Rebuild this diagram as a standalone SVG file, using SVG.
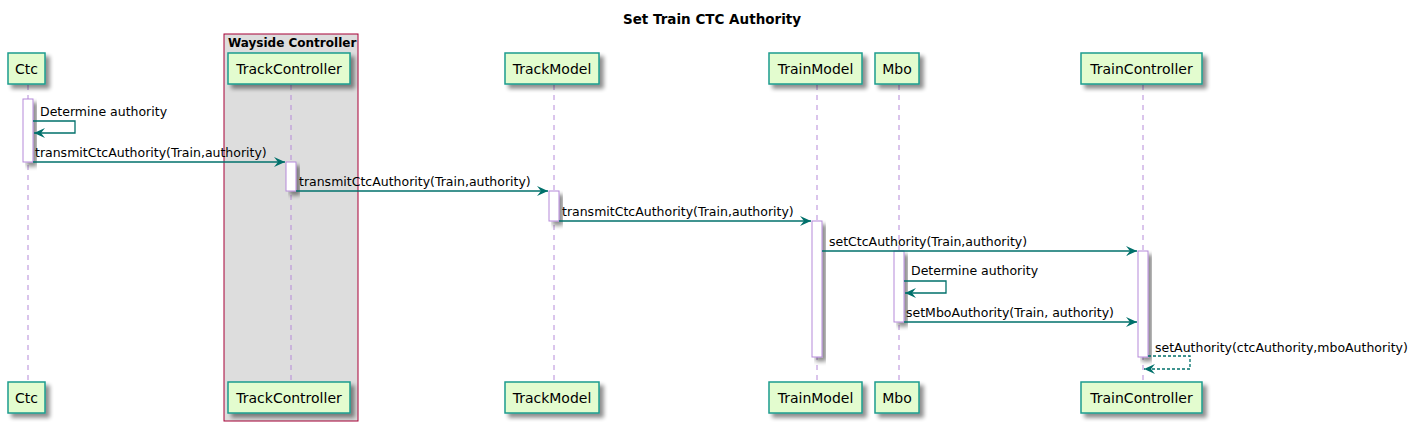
<svg xmlns="http://www.w3.org/2000/svg" width="1421" height="431" viewBox="0 0 1421 431">
<defs>
<filter id="sh" x="-20%" y="-20%" width="160%" height="160%">
<feGaussianBlur in="SourceAlpha" stdDeviation="2"/>
<feOffset dx="4" dy="4" result="b"/>
<feComponentTransfer><feFuncA type="linear" slope="0.45"/></feComponentTransfer>
<feMerge><feMergeNode/><feMergeNode in="SourceGraphic"/></feMerge>
</filter>
<marker id="ah" markerWidth="12" markerHeight="10" refX="11" refY="5" orient="auto" markerUnits="userSpaceOnUse">
<path d="M0,0 L11,5 L0,10 L4,5 Z" fill="#00706B"/>
</marker>
</defs>
<style>
text{font-family:"DejaVu Sans","Liberation Sans",sans-serif;fill:#000}
.p rect{fill:#E3FCCF;stroke:#1C9C8E;stroke-width:1.5}
.p text{font-size:14px;text-anchor:middle}
.life{stroke:#B58AD9;stroke-width:1;stroke-dasharray:5,5}
.act{fill:#fff;stroke:#B58AD9;stroke-width:1}
.msg{stroke:#00706B;stroke-width:1.3;fill:none}
.lbl{font-size:12.5px}
</style>
<rect width="1421" height="431" fill="#fff"/>
<text x="712" y="24" text-anchor="middle" font-weight="bold" font-size="13.5">Set Train CTC Authority</text>
<g id="box-wayside">
<rect x="224" y="34" width="134" height="387" fill="#DDDDDD" stroke="#A80036" stroke-width="1"/>
<text x="228" y="47" font-weight="bold" font-size="12">Wayside Controller</text>
</g>
<g id="lifelines">
<line class="life" x1="28" y1="85" x2="28" y2="382"/>
<line class="life" x1="291" y1="85" x2="291" y2="382"/>
<line class="life" x1="554" y1="85" x2="554" y2="382"/>
<line class="life" x1="817" y1="85" x2="817" y2="382"/>
<line class="life" x1="899" y1="85" x2="899" y2="382"/>
<line class="life" x1="1143" y1="85" x2="1143" y2="382"/>
</g>
<g id="Ctc" class="p">
<rect x="8" y="53" width="37" height="31" filter="url(#sh)"/><text x="26.5" y="74">Ctc</text>
<rect x="8" y="382" width="37" height="31" filter="url(#sh)"/><text x="26.5" y="403">Ctc</text>
</g>
<g id="TrackController" class="p">
<rect x="228" y="53" width="122" height="31" filter="url(#sh)"/><text x="289" y="74">TrackController</text>
<rect x="228" y="382" width="122" height="31" filter="url(#sh)"/><text x="289" y="403">TrackController</text>
</g>
<g id="TrackModel" class="p">
<rect x="505" y="53" width="94" height="31" filter="url(#sh)"/><text x="552" y="74">TrackModel</text>
<rect x="505" y="382" width="94" height="31" filter="url(#sh)"/><text x="552" y="403">TrackModel</text>
</g>
<g id="TrainModel" class="p">
<rect x="769" y="53" width="93" height="31" filter="url(#sh)"/><text x="815.5" y="74">TrainModel</text>
<rect x="769" y="382" width="93" height="31" filter="url(#sh)"/><text x="815.5" y="403">TrainModel</text>
</g>
<g id="Mbo" class="p">
<rect x="875" y="53" width="44" height="31" filter="url(#sh)"/><text x="897" y="74">Mbo</text>
<rect x="875" y="382" width="44" height="31" filter="url(#sh)"/><text x="897" y="403">Mbo</text>
</g>
<g id="TrainController" class="p">
<rect x="1081" y="53" width="121" height="31" filter="url(#sh)"/><text x="1141.5" y="74">TrainController</text>
<rect x="1081" y="382" width="121" height="31" filter="url(#sh)"/><text x="1141.5" y="403">TrainController</text>
</g>
<g id="activations">
<rect class="act" x="23" y="99" width="10" height="63" filter="url(#sh)"/>
<rect class="act" x="286" y="162" width="10" height="29" filter="url(#sh)"/>
<rect class="act" x="549" y="191" width="10" height="30" filter="url(#sh)"/>
<rect class="act" x="812" y="221" width="10" height="136" filter="url(#sh)"/>
<rect class="act" x="894" y="251" width="10" height="71" filter="url(#sh)"/>
<rect class="act" x="1138" y="251" width="10" height="106" filter="url(#sh)"/>
</g>
<g id="connectors">
<polyline class="msg" points="33,121 75,121 75,133 34,133" marker-end="url(#ah)"/>
<text class="lbl" x="40" y="116">Determine authority</text>
<line class="msg" x1="33" y1="162" x2="285" y2="162" marker-end="url(#ah)"/>
<text class="lbl" x="35" y="157">transmitCtcAuthority(Train,authority)</text>
<line class="msg" x1="296" y1="191" x2="548" y2="191" marker-end="url(#ah)"/>
<text class="lbl" x="299" y="186">transmitCtcAuthority(Train,authority)</text>
<line class="msg" x1="559" y1="221" x2="811" y2="221" marker-end="url(#ah)"/>
<text class="lbl" x="562" y="216">transmitCtcAuthority(Train,authority)</text>
<line class="msg" x1="822" y1="251" x2="1137" y2="251" marker-end="url(#ah)"/>
<text class="lbl" x="829" y="246">setCtcAuthority(Train,authority)</text>
<polyline class="msg" points="904,281 946,281 946,293 905,293" marker-end="url(#ah)"/>
<text class="lbl" x="911" y="275">Determine authority</text>
<line class="msg" x1="904" y1="322" x2="1137" y2="322" marker-end="url(#ah)"/>
<text class="lbl" x="906" y="317">setMboAuthority(Train, authority)</text>
<polyline class="msg" points="1148,356 1190,356 1190,369 1144,369" stroke-dasharray="3,2" marker-end="url(#ah)"/>
<text class="lbl" x="1155" y="352">setAuthority(ctcAuthority,mboAuthority)</text>
</g>
</svg>
